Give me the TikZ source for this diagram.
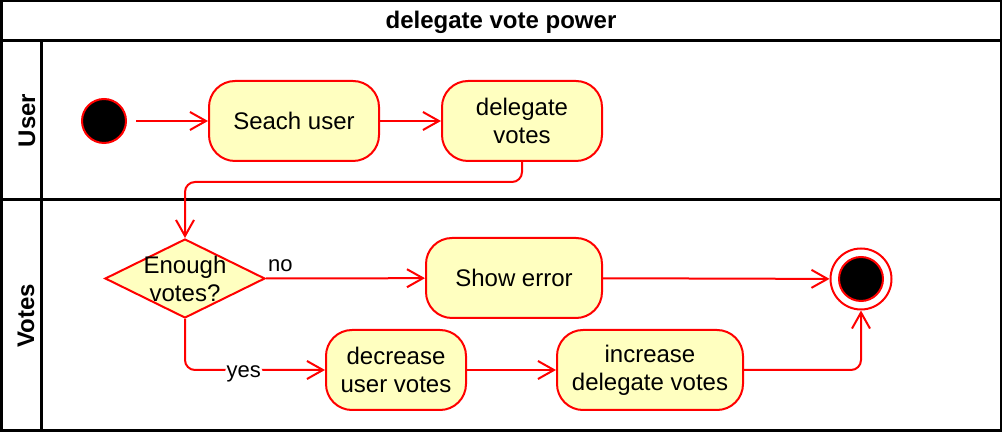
\documentclass[tikz,border=0pt]{standalone}
\usepackage{fontspec}
\setmainfont{Liberation Sans}
\usetikzlibrary{shapes.geometric,arrows.meta,positioning,calc}
\definecolor{actfill}{HTML}{FFFFC0}
\definecolor{actline}{HTML}{FF0000}

\begin{document}
\begin{tikzpicture}[x=0.5pt, y=-0.5pt, >={Straight Barb[length=8pt,width=9pt]}, font=\fontsize{12}{14}\selectfont]
        % Styles
        \tikzstyle{lane} = [draw=black, line width=1.5pt]
        \tikzstyle{lanetitle} = [font=\fontsize{12}{14}\selectfont\bfseries]
        \tikzstyle{block} = [rectangle, draw=actline, fill=actfill, line width=1pt, align=center, rounded corners=13pt, minimum height=40pt, inner sep=0pt]
        \tikzstyle{decision} = [diamond, draw=actline, fill=actfill, line width=1pt, minimum width=80pt, minimum height=39.5pt, inner sep=0pt]
        \tikzstyle{initial} = [circle, draw=actline, fill=black, line width=1pt, minimum size=22pt, inner sep=0pt]
        \tikzstyle{final} = [circle, draw=actline, fill=white, line width=1pt, minimum size=30.5pt, inner sep=0pt]
        \tikzstyle{line} = [draw=actline, ->, line width=1pt, rounded corners=5pt]
        \tikzstyle{guard} = [font=\fontsize{11}{13}\selectfont, inner sep=1pt]

        \useasboundingbox (0,0) rectangle (1002,432);

        % Pool and lanes
        \draw [lane] (1,1) rectangle (1001,431);
        \draw [lane] (1,41) -- (1001,41);
        \draw [lane] (1,200) -- (1001,200);
        \draw [lane] (41,41) -- (41,431);
        \node [lanetitle] (pool) at (501,22) {delegate vote power};
        \node [lanetitle, rotate=90] (userlane) at (27,120.5) {User};
        \node [lanetitle, rotate=90] (voteslane) at (26,315.5) {Votes};

        % Nodes
        \node [initial] (start) at (104,121) {};
        \node [block, minimum width=85pt] (search) at (294,121) {Seach user};
        \node [block, minimum width=80pt] (delegate) at (522,121) {delegate\\votes};
        \node [decision, label={[align=center]center:Enough\\votes?}] (check) at (185,278.5) {};
        \node [block, minimum width=88pt] (error) at (514,278) {Show error};
        \node [block, minimum width=70pt] (decrease) at (396,370) {decrease\\user votes};
        \node [block, minimum width=93pt] (increase) at (650,370) {increase\\delegate votes};
        \node [final] (end) at (861,279) {};
        \node [initial] (endcore) at (end) {};

        % Edges
        \path [line, shorten <=4.5pt] (start) -- (search);
        \path [line] (search) -- (delegate);
        \path [line] (delegate.south) -- ++(0,20) -| (check.north);
        \path [line] (check.east) -- node [guard, pos=0.09, above=2pt] {no} (error);
        \path [line] (check.south) |- node [guard, fill=white, pos=0.71, yshift=-2pt] {yes} (decrease.west);
        \path [line] (error) -- (end);
        \path [line] (decrease) -- (increase);
        \path [line] (increase.east) -| (end.south);

    \end{tikzpicture}
\end{document}
